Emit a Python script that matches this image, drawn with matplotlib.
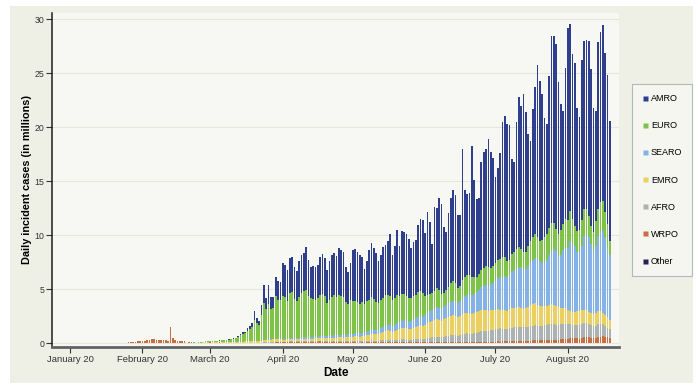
import matplotlib
matplotlib.use("Agg")
import matplotlib.pyplot as plt
import matplotlib.dates as mdates
from matplotlib.lines import Line2D
from matplotlib.patches import Rectangle
import numpy as np
import pandas as pd

plt.rcParams["font.family"] = ["Liberation Sans", "DejaVu Sans"]

START = "2020-01-20"

# daily incident cases per WHO region, Jan 20 - Aug 19 (one chunk per month)
wrpo = (
    [0.01, 0.01, 0.01, 0.03, 0.04, 0.07, 0.08, 0.10, 0.13, 0.15, 0.17, 0.20]
    + [0.21, 0.26, 0.29, 0.32, 0.38, 0.37, 0.31, 0.34, 0.28, 0.27, 0.30, 0.24, 1.52, 0.50, 0.26,
       0.21, 0.19, 0.18, 0.17, 0.04, 0.09, 0.10, 0.06, 0.04, 0.05, 0.04, 0.04, 0.05, 0.06]
    + [0.10, 0.07, 0.06, 0.05, 0.08, 0.06, 0.05, 0.04, 0.03, 0.03, 0.03, 0.02, 0.02, 0.02, 0.02, 0.02,
       0.02, 0.03, 0.03, 0.03, 0.04, 0.04, 0.04, 0.05, 0.05, 0.06, 0.06, 0.07, 0.08, 0.08, 0.09]
    + [0.10, 0.11, 0.12, 0.13, 0.13, 0.12, 0.13, 0.14, 0.16, 0.15, 0.14, 0.12, 0.13, 0.14, 0.13,
       0.12, 0.18, 0.16, 0.15, 0.14, 0.13, 0.12, 0.11, 0.10, 0.10, 0.09, 0.08, 0.09, 0.08, 0.08]
    + [0.08, 0.08, 0.07, 0.07, 0.08, 0.07, 0.08, 0.09, 0.10, 0.09, 0.08, 0.08, 0.09, 0.10, 0.11, 0.10,
       0.09, 0.08, 0.09, 0.10, 0.10, 0.11, 0.11, 0.10, 0.09, 0.09, 0.10, 0.11, 0.12, 0.12, 0.11]
    + [0.12, 0.11, 0.12, 0.13, 0.12, 0.13, 0.12, 0.11, 0.12, 0.13, 0.12, 0.13, 0.14, 0.13, 0.12,
       0.13, 0.14, 0.15, 0.14, 0.13, 0.14, 0.13, 0.12, 0.14, 0.15, 0.16, 0.15, 0.14, 0.15, 0.16]
    + [0.16, 0.17, 0.16, 0.17, 0.18, 0.17, 0.18, 0.19, 0.20, 0.21, 0.22, 0.21, 0.22, 0.24, 0.25, 0.26,
       0.27, 0.28, 0.27, 0.28, 0.30, 0.31, 0.32, 0.33, 0.34, 0.33, 0.32, 0.34, 0.36, 0.38, 0.40]
    + [0.42, 0.45, 0.48, 0.50, 0.46, 0.44, 0.48, 0.55, 0.60, 0.58, 0.52, 0.48, 0.50, 0.56, 0.62,
       0.65, 0.60, 0.55, 0.50]
)

afro = (
    [0.0] * 12
    + [0.0] * 29
    + [0.0] * 15
    + [0.01, 0.01, 0.01, 0.01, 0.02, 0.02, 0.02, 0.03, 0.03, 0.03, 0.04, 0.04, 0.05, 0.05, 0.05, 0.06]
    + [0.03, 0.03, 0.04, 0.04, 0.05, 0.04, 0.04, 0.05, 0.05, 0.06, 0.06, 0.05, 0.06, 0.06, 0.07,
       0.07, 0.08, 0.08, 0.07, 0.08, 0.09, 0.09, 0.10, 0.10, 0.11, 0.11, 0.10, 0.11, 0.12, 0.13]
    + [0.13, 0.14, 0.14, 0.13, 0.14, 0.14, 0.15, 0.16, 0.17, 0.16, 0.15, 0.16, 0.18, 0.19, 0.20, 0.21,
       0.20, 0.19, 0.21, 0.22, 0.23, 0.25, 0.26, 0.25, 0.24, 0.25, 0.27, 0.29, 0.31, 0.32, 0.30]
    + [0.32, 0.38, 0.42, 0.45, 0.48, 0.50, 0.48, 0.45, 0.50, 0.55, 0.60, 0.62, 0.64, 0.62, 0.58,
       0.62, 0.70, 0.75, 0.78, 0.76, 0.74, 0.80, 0.85, 0.90, 0.95, 1.00, 1.02, 0.98, 1.05, 1.10]
    + [1.15, 1.20, 1.22, 1.20, 1.18, 1.15, 1.22, 1.25, 1.28, 1.30, 1.32, 1.30, 1.28, 1.25, 1.30, 1.35,
       1.38, 1.40, 1.36, 1.32, 1.35, 1.40, 1.42, 1.45, 1.48, 1.45, 1.40, 1.38, 1.40, 1.42, 1.40]
    + [1.35, 1.30, 1.25, 1.22, 1.20, 1.25, 1.28, 1.30, 1.25, 1.20, 1.15, 1.10, 1.15, 1.20, 1.18,
       1.10, 1.00, 0.90, 0.80]
)

emro = (
    [0.0] * 12
    + [0, 0, 0, 0, 0, 0, 0, 0, 0, 0, 0, 0, 0, 0, 0, 0, 0, 0, 0, 0, 0,
       0.01, 0.01, 0.01, 0.02, 0.03, 0.04, 0.05, 0.06]
    + [0.06, 0.06, 0.07, 0.08, 0.09, 0.10, 0.11, 0.10, 0.09, 0.10, 0.10, 0.11, 0.12, 0.13, 0.14, 0.15,
       0.14, 0.15, 0.16, 0.18, 0.17, 0.17, 0.18, 0.20, 0.21, 0.22, 0.22, 0.24, 0.25, 0.26, 0.28]
    + [0.18, 0.19, 0.20, 0.21, 0.20, 0.19, 0.21, 0.22, 0.22, 0.23, 0.24, 0.22, 0.23, 0.24, 0.25,
       0.26, 0.27, 0.28, 0.26, 0.27, 0.29, 0.30, 0.31, 0.32, 0.34, 0.35, 0.33, 0.35, 0.37, 0.40]
    + [0.40, 0.42, 0.44, 0.43, 0.45, 0.46, 0.50, 0.55, 0.60, 0.62, 0.60, 0.64, 0.70, 0.78, 0.85, 0.88,
       0.86, 0.82, 0.88, 0.95, 1.00, 1.05, 1.08, 1.05, 1.00, 1.02, 1.08, 1.12, 1.18, 1.22, 1.20]
    + [1.25, 1.35, 1.45, 1.50, 1.55, 1.60, 1.58, 1.55, 1.62, 1.70, 1.75, 1.80, 1.82, 1.78, 1.70,
       1.75, 1.85, 1.90, 1.92, 1.90, 1.85, 1.88, 1.92, 1.95, 1.98, 1.95, 1.92, 1.88, 1.85, 1.80]
    + [1.80, 1.78, 1.75, 1.72, 1.70, 1.68, 1.75, 1.80, 1.82, 1.80, 1.78, 1.75, 1.72, 1.80, 1.85, 1.90,
       2.00, 2.05, 1.95, 1.85, 1.80, 1.75, 1.70, 1.78, 1.85, 1.80, 1.70, 1.60, 1.55, 1.50, 1.45]
    + [1.30, 1.25, 1.20, 1.18, 1.30, 1.35, 1.30, 1.25, 1.20, 1.15, 1.10, 1.12, 1.18, 1.20, 1.15,
       1.10, 1.05, 1.00, 0.90]
)

searo = (
    [0.0] * 12
    + [0.0] * 29
    + [0.0] * 14
    + [0.00, 0.01, 0.01, 0.01, 0.01, 0.02, 0.02, 0.02, 0.03, 0.03, 0.03, 0.04, 0.04, 0.04, 0.05, 0.06,
       0.06]
    + [0.07, 0.08, 0.08, 0.09, 0.10, 0.10, 0.11, 0.12, 0.13, 0.13, 0.14, 0.13, 0.14, 0.15, 0.16,
       0.17, 0.18, 0.18, 0.17, 0.18, 0.20, 0.21, 0.22, 0.23, 0.24, 0.25, 0.24, 0.26, 0.27, 0.28]
    + [0.28, 0.30, 0.31, 0.30, 0.32, 0.33, 0.35, 0.36, 0.38, 0.40, 0.38, 0.40, 0.42, 0.45, 0.48, 0.50,
       0.52, 0.50, 0.55, 0.58, 0.60, 0.65, 0.68, 0.70, 0.68, 0.72, 0.75, 0.80, 0.85, 0.88, 0.85]
    + [0.90, 0.95, 1.00, 1.05, 1.10, 1.15, 1.12, 1.10, 1.15, 1.20, 1.25, 1.30, 1.35, 1.40, 1.35,
       1.40, 1.55, 1.60, 1.65, 1.70, 1.75, 1.80, 1.85, 1.95, 2.10, 2.20, 2.30, 2.35, 2.40, 2.50]
    + [2.70, 2.90, 3.00, 3.10, 3.20, 3.10, 3.20, 3.40, 3.50, 3.60, 3.70, 3.80, 3.70, 3.60, 3.80, 4.00,
       4.10, 4.20, 4.30, 4.20, 4.00, 4.10, 4.30, 4.60, 4.90, 5.20, 5.10, 4.80, 4.90, 5.30, 5.60]
    + [5.80, 6.50, 6.30, 6.10, 5.50, 5.40, 6.00, 6.80, 7.10, 6.90, 6.40, 5.80, 6.20, 7.00, 7.40,
       7.60, 7.10, 6.50, 6.00]
)

euro = (
    [0.0] * 12
    + [0, 0, 0, 0, 0, 0, 0, 0, 0, 0, 0, 0, 0, 0, 0, 0, 0, 0, 0, 0, 0,
       0.01, 0.02, 0.02, 0.03, 0.04, 0.05, 0.08, 0.11]
    + [0.04, 0.06, 0.08, 0.08, 0.09, 0.12, 0.17, 0.20, 0.22, 0.27, 0.29, 0.36, 0.48, 0.65, 0.75, 0.75,
       0.95, 1.10, 1.30, 1.90, 1.60, 1.45, 2.30, 3.40, 2.90, 3.30, 2.80, 2.90, 4.00, 3.60, 3.50]
    + [4.00, 3.90, 3.50, 4.20, 4.30, 3.70, 3.40, 3.80, 4.10, 4.30, 4.40, 3.90, 3.60, 3.50, 3.40,
       3.60, 3.80, 3.90, 3.70, 3.10, 3.30, 3.60, 3.70, 3.50, 3.70, 3.60, 3.50, 3.00, 2.80, 3.10]
    + [3.00, 3.00, 2.90, 2.70, 2.80, 2.60, 2.80, 2.90, 3.00, 2.80, 2.60, 2.50, 2.60, 2.70, 2.80, 2.80,
       2.70, 2.40, 2.50, 2.60, 2.50, 2.50, 2.40, 2.30, 2.20, 2.10, 2.20, 2.20, 2.30, 2.30, 2.20]
    + [1.80, 1.70, 1.60, 1.50, 1.60, 1.70, 1.60, 1.40, 1.30, 1.40, 1.50, 1.70, 1.80, 1.70, 1.40,
       1.40, 1.60, 1.70, 1.80, 1.80, 1.70, 1.50, 1.40, 1.50, 1.60, 1.70, 1.80, 1.70, 1.50, 1.60]
    + [1.60, 1.70, 1.70, 1.80, 1.70, 1.50, 1.40, 1.60, 1.70, 1.80, 1.90, 1.70, 1.50, 1.60, 1.80, 2.00,
       2.10, 2.20, 2.00, 1.80, 2.10, 2.30, 2.40, 2.50, 2.60, 2.40, 2.10, 2.00, 2.30, 2.50, 2.70]
    + [2.60, 2.80, 2.30, 1.90, 1.90, 2.10, 2.40, 2.50, 2.30, 2.00, 1.70, 1.80, 2.30, 2.50, 2.70,
       2.70, 2.40, 2.10, 1.30]
)

amro = (
    [0.0] * 12
    + [0.0] * 29
    + [0.00, 0.00, 0.00, 0.01, 0.01, 0.01, 0.01, 0.01, 0.02, 0.02, 0.04, 0.05, 0.08, 0.10, 0.12, 0.15,
       0.25, 0.30, 0.35, 0.80, 0.50, 0.40, 1.00, 1.70, 1.00, 1.75, 1.10, 0.95, 1.70, 1.75, 1.70]
    + [3.02, 2.99, 2.86, 3.23, 3.22, 2.95, 2.81, 3.27, 3.54, 3.53, 3.92, 3.28, 2.94, 3.11, 3.09,
       3.08, 3.49, 3.65, 3.55, 3.03, 3.59, 3.88, 3.96, 3.85, 4.31, 4.20, 4.25, 3.29, 2.96, 3.41]
    + [4.71, 4.76, 4.64, 4.57, 4.21, 3.30, 3.72, 4.54, 5.05, 4.73, 4.59, 3.82, 4.21, 4.68, 4.66, 5.01,
       5.73, 4.21, 4.77, 6.05, 4.57, 5.84, 5.77, 5.70, 5.49, 4.62, 5.00, 5.08, 6.24, 6.66, 6.74]
    + [5.81, 7.71, 6.61, 4.57, 7.75, 7.42, 8.60, 8.29, 6.11, 5.32, 6.88, 7.95, 8.45, 8.07, 6.75,
       6.60, 12.16, 8.10, 7.51, 7.61, 12.12, 8.99, 7.26, 7.06, 10.02, 10.69, 10.81, 11.85, 10.75, 10.04]
    + [7.99, 8.45, 9.77, 12.51, 13.14, 12.70, 12.45, 8.86, 8.30, 11.79, 13.88, 13.24, 14.68, 12.91,
       10.40, 9.19, 11.85, 13.57, 15.92, 14.85, 13.55, 11.04, 10.16, 14.14, 17.33, 17.32, 17.08,
       14.08, 11.69, 10.40, 13.95]
    + [17.73, 17.30, 15.27, 15.10, 11.44, 10.46, 14.74, 15.60, 15.65, 16.17, 14.53, 11.50, 10.17,
       15.44, 15.75, 16.35, 14.75, 13.85, 11.10]
)

other = (
    [0.0] * 12
    + [0, 0, 0, 0, 0.01, 0, 0.01, 0, 0.01, 0.01, 0, 0, 0, 0.02, 0.01, 0.01, 0.01, 0.01, 0.01,
       0, 0, 0, 0, 0, 0, 0, 0, 0, 0]
    + [0.0] * (31 + 30 + 31 + 30 + 31 + 19)
)

# bottom-to-top stacking order
regions = ["Other", "WRPO", "AFRO", "EMRO", "SEARO", "EURO", "AMRO"]
series = [other, wrpo, afro, emro, searo, euro, amro]
colors = {
    "AMRO": "#2f3f8e",
    "EURO": "#7fc24a",
    "SEARO": "#84b2e6",
    "EMRO": "#e9d060",
    "AFRO": "#aab2b4",
    "WRPO": "#c96e40",
    "Other": "#2e1d4f",
}

W, H = 700, 389
fig = plt.figure(figsize=(W / 100, H / 100), dpi=100)
fig.patch.set_facecolor("white")
fig.add_artist(Rectangle((10 / W, 6 / H), 683 / W, 377 / H, transform=fig.transFigure,
                         facecolor="#eef0e6", edgecolor="none", zorder=0))

ax = fig.add_axes([52 / W, 1 - 347 / H, 567 / W, 334 / H])
ax.set_facecolor("#f7f8f3")

dates = mdates.date2num(pd.date_range(START, periods=len(amro), freq="D"))
bottom = np.zeros(len(amro))
for name, vals in zip(regions, series):
    vals = np.asarray(vals, dtype=float)
    ax.bar(dates, vals, width=0.72, bottom=bottom, color=colors[name], linewidth=0, zorder=2)
    bottom = bottom + vals

jan1 = mdates.date2num(pd.Timestamp("2020-01-01"))
ax.set_xlim(jan1 - 7.7, jan1 + 234.9)
ax.set_ylim(-0.34, 30.6)

ax.xaxis.set_major_locator(mdates.MonthLocator())
ax.xaxis.set_major_formatter(mdates.DateFormatter("%B %y"))
ax.set_yticks([0, 5, 10, 15, 20, 25, 30])
ax.yaxis.grid(True, color="#e4e7de", linewidth=0.8, zorder=0)
ax.set_axisbelow(True)

for side in ["top", "right"]:
    ax.spines[side].set_visible(False)
ax.spines["left"].set_color("#1e1e1e")
ax.spines["left"].set_linewidth(1.1)
ax.spines["bottom"].set_color("#5f6466")
ax.spines["bottom"].set_linewidth(2.0)

ax.tick_params(axis="y", labelsize=6.3, colors="#333333", length=4, width=0.8, pad=1.5)
ax.tick_params(axis="x", labelsize=6.8, colors="#333333", length=4, width=0.8, pad=2)

ax.set_ylabel("Daily incident cases (in millions)", fontsize=7.8, fontweight="bold", labelpad=2)
ax.set_xlabel("Date", fontsize=8.5, fontweight="bold", labelpad=2)

handles = [Line2D([0], [0], marker="s", linestyle="none", markersize=3.6,
                  markerfacecolor=colors[n], markeredgecolor="none") for n in
           ["AMRO", "EURO", "SEARO", "EMRO", "AFRO", "WRPO", "Other"]]
leg = fig.legend(handles, ["AMRO", "EURO", "SEARO", "EMRO", "AFRO", "WRPO", "Other"],
                 loc="center left", bbox_to_anchor=(632 / W, 1 - 180 / H), fontsize=6.5,
                 frameon=True, fancybox=False, borderpad=1.1, labelspacing=2.0,
                 handlelength=0.6, handletextpad=0.4, borderaxespad=0)
leg.get_frame().set_facecolor("#f7f8f3")
leg.get_frame().set_edgecolor("#a3abb0")
leg.get_frame().set_linewidth(0.8)

fig.savefig("out.png", dpi=100, facecolor=fig.get_facecolor())
